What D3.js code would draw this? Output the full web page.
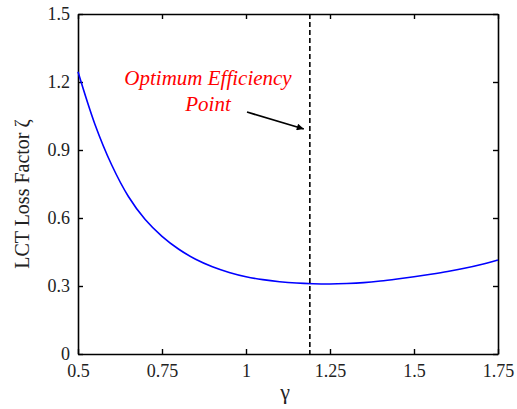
<!DOCTYPE html>
<html>
<head>
<meta charset="utf-8">
<script src="https://cdn.jsdelivr.net/npm/d3@7"></script>
<style>
  body { margin: 0; background: #fff; }
  svg { display: block; }
</style>
</head>
<body>
<div class="chart"></div>
<script>
// values
const gammaValues = [0.50, 0.55, 0.60, 0.65, 0.70, 0.75, 0.80, 0.85, 0.90, 0.95, 1.00,
  1.05, 1.10, 1.15, 1.20, 1.25, 1.30, 1.35, 1.40, 1.45, 1.50, 1.55, 1.60, 1.65, 1.70, 1.75];
const lossValues = [1.245, 1.015, 0.835, 0.695, 0.593, 0.519, 0.462, 0.418, 0.385, 0.360, 0.341,
  0.328, 0.319, 0.313, 0.310, 0.309, 0.311, 0.315, 0.322, 0.331, 0.341, 0.352, 0.364, 0.378, 0.395, 0.415];
const xTicks = [0.5, 0.75, 1, 1.25, 1.5, 1.75];
const yTicks = [0, 0.3, 0.6, 0.9, 1.2, 1.5];
const optimumGamma = 1.19;
const annotationLines = ['Optimum Efficiency', 'Point'];

const serif = '"Liberation Serif", "DejaVu Serif", serif';

const width = 517, height = 409;
const margins = { left: 78, right: 19, top: 14, bottom: 55 };

const svg = d3.select('.chart')
  .append('svg')
  .attr('width', width)
  .attr('height', height);

const xScale = d3.scaleLinear()
  .domain([0.5, 1.75])
  .range([margins.left, width - margins.right]);

const yScale = d3.scaleLinear()
  .domain([0, 1.5])
  .range([height - margins.bottom, margins.top]);

const tickLen = 5;

// bottom / left axes with inward ticks
const xAxis = d3.axisBottom(xScale)
  .tickValues(xTicks)
  .tickFormat(d => String(d))
  .tickSizeInner(-tickLen)
  .tickSizeOuter(0)
  .tickPadding(10);

const yAxis = d3.axisLeft(yScale)
  .tickValues(yTicks)
  .tickFormat(d => String(d))
  .tickSizeInner(-tickLen)
  .tickSizeOuter(0)
  .tickPadding(8);

const gx = svg.append('g')
  .attr('transform', `translate(0, ${yScale(0)})`)
  .call(xAxis);

const gy = svg.append('g')
  .attr('transform', `translate(${xScale(0.5)}, 0)`)
  .call(yAxis);

// top / right mirrored ticks
svg.append('g')
  .attr('transform', `translate(0, ${yScale(1.5)})`)
  .call(d3.axisTop(xScale).tickValues(xTicks).tickSizeInner(-tickLen).tickSizeOuter(0).tickFormat(''));

svg.append('g')
  .attr('transform', `translate(${xScale(1.75)}, 0)`)
  .call(d3.axisRight(yScale).tickValues(yTicks).tickSizeInner(-tickLen).tickSizeOuter(0).tickFormat(''));

svg.selectAll('.domain').attr('stroke', '#000').attr('stroke-width', 1.6);
svg.selectAll('.tick line').attr('stroke', '#000').attr('stroke-width', 1.4);

svg.selectAll('g').attr('font-family', serif);

gx.selectAll('text')
  .style('font-family', serif)
  .style('font-size', '18px')
  .style('fill', '#222');

gy.selectAll('text')
  .style('font-family', serif)
  .style('font-size', '18px')
  .style('fill', '#222');

// curve
const data = gammaValues.map((g, i) => ({ g: g, v: lossValues[i] }));

const line = d3.line()
  .x(d => xScale(d.g))
  .y(d => yScale(d.v))
  .curve(d3.curveCatmullRom);

svg.append('path')
  .datum(data)
  .attr('d', line)
  .attr('fill', 'none')
  .attr('stroke', '#0000ff')
  .attr('stroke-width', 1.6);

// optimum marker
svg.append('line')
  .attr('x1', xScale(optimumGamma))
  .attr('x2', xScale(optimumGamma))
  .attr('y1', yScale(1.5))
  .attr('y2', yScale(0))
  .attr('stroke', '#000')
  .attr('stroke-width', 1.6)
  .attr('stroke-dasharray', '5,3');

// annotation
svg.append('defs')
  .append('marker')
  .attr('id', 'arrow')
  .attr('viewBox', '0 0 10 10')
  .attr('refX', 10)
  .attr('refY', 5)
  .attr('markerWidth', 9)
  .attr('markerHeight', 7)
  .attr('markerUnits', 'userSpaceOnUse')
  .attr('orient', 'auto')
  .append('path')
  .attr('d', 'M0,0 L10,5 L0,10 Z')
  .attr('fill', '#000');

// arrow from beside "Point" to the dashed line
svg.append('line')
  .attr('x1', 247)
  .attr('y1', 112)
  .attr('x2', xScale(optimumGamma) - 6)
  .attr('y2', 129)
  .attr('stroke', '#000')
  .attr('stroke-width', 1.8)
  .attr('marker-end', 'url(#arrow)');

svg.selectAll('.annotation')
  .data(annotationLines)
  .enter()
  .append('text')
  .classed('annotation', true)
  .attr('x', 208)
  .attr('y', (d, i) => 85 + i * 26)
  .attr('text-anchor', 'middle')
  .style('font-family', serif)
  .style('font-style', 'italic')
  .style('font-size', '21px')
  .style('fill', '#ff0000')
  .text(d => d);

// axis titles
svg.append('text')
  .attr('x', xScale(1.125) - 3)
  .attr('y', 399)
  .attr('text-anchor', 'middle')
  .style('font-family', serif)
  .style('font-size', '22px')
  .style('fill', '#222')
  .text('γ');

svg.append('text')
  .attr('transform', `translate(29, ${yScale(0.75) + 10}) rotate(-90)`)
  .attr('text-anchor', 'middle')
  .style('font-family', serif)
  .style('font-size', '20px')
  .style('fill', '#222')
  .text('LCT Loss Factor ζ');
</script>
</body>
</html>
